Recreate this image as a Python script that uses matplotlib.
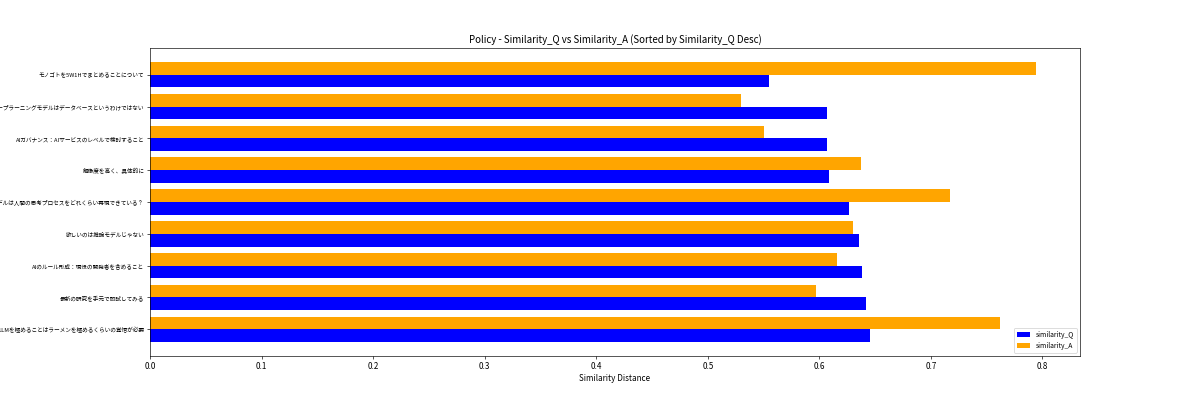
import matplotlib
matplotlib.use('Agg')
import matplotlib.pyplot as plt
import numpy as np

plt.rcParams['font.family'] = ['Noto Sans CJK JP', 'DejaVu Sans']

# sorted by similarity_Q desc (first row drawn at the bottom)
questions = [
    'LLMを極めることはラーメンを極めるくらいの覚悟が必要',
    '最新の研究を手元で即試してみる',
    'AIのルール形成：現役の開発者を含めること',
    '欲しいのは推論モデルじゃない',
    '推論モデルは人間の思考プロセスをどれくらい再現できている？',
    '解像度を高く、具体的に',
    'AIガバナンス：AIサービスのレベルで検討すること',
    'ディープラーニングモデルはデータベースというわけではない',
    'モノゴトを5W1Hでまとめることについて',
]
similarity_q = [0.645, 0.642, 0.638, 0.636, 0.627, 0.609, 0.607, 0.607, 0.555]
similarity_a = [0.762, 0.597, 0.616, 0.630, 0.717, 0.637, 0.550, 0.530, 0.794]

dpi = 70 / 1.2
fig, ax = plt.subplots(figsize=(1200 / dpi, 400 / dpi), dpi=dpi)
y = np.arange(len(questions))
h = 0.4
ax.barh(y - h / 2, similarity_q, height=h, color='blue', label='similarity_Q')
ax.barh(y + h / 2, similarity_a, height=h, color='orange', label='similarity_A')

ax.set_yticks(y)
ax.set_yticklabels(questions, fontsize=7)
ax.set_xlabel('Similarity Distance')
ax.set_title('Policy - Similarity_Q vs Similarity_A (Sorted by Similarity_Q Desc)')
ax.legend(loc='lower right', fontsize='small')

fig.savefig('out.png', dpi=dpi)
